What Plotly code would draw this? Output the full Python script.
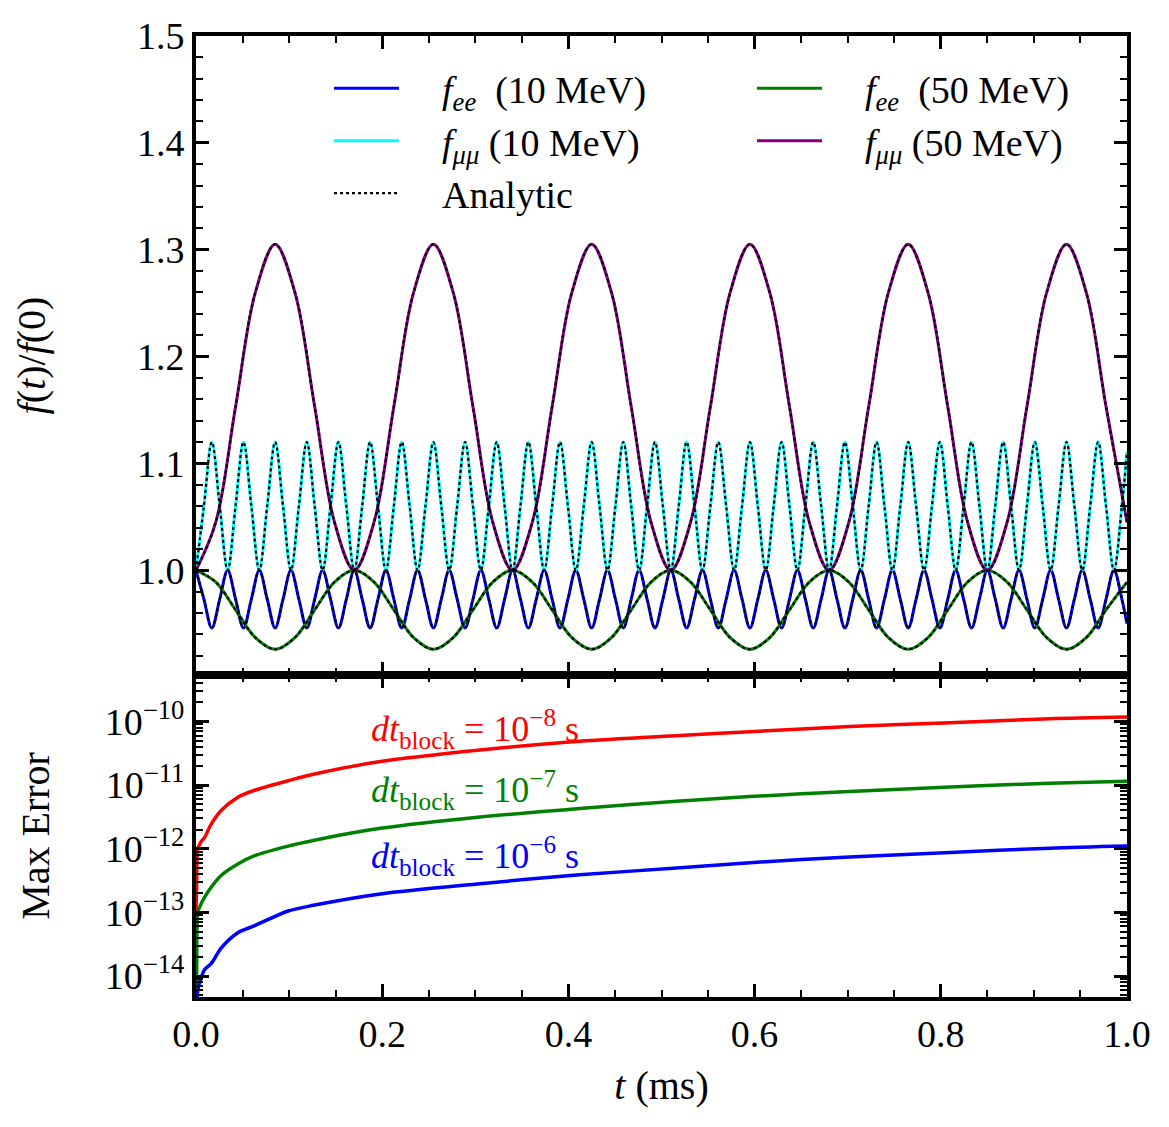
import plotly.graph_objects as go
from plotly.subplots import make_subplots

FONT = "Liberation Serif"

# ---------------- top panel data ----------------
t_fast = [
    0.0000, 0.0085, 0.0170, 0.0255, 0.0340, 0.0425, 0.0510, 0.0595, 0.0680, 0.0765,
    0.0850, 0.0935, 0.1020, 0.1105, 0.1190, 0.1275, 0.1360, 0.1445, 0.1530, 0.1615,
    0.1700, 0.1785, 0.1870, 0.1955, 0.2040, 0.2125, 0.2210, 0.2295, 0.2380, 0.2465,
    0.2550, 0.2635, 0.2720, 0.2805, 0.2890, 0.2975, 0.3060, 0.3145, 0.3230, 0.3315,
    0.3400, 0.3485, 0.3570, 0.3655, 0.3740, 0.3825, 0.3910, 0.3995, 0.4080, 0.4165,
    0.4250, 0.4335, 0.4420, 0.4505, 0.4590, 0.4675, 0.4760, 0.4845, 0.4930, 0.5015,
    0.5100, 0.5185, 0.5270, 0.5355, 0.5440, 0.5525, 0.5610, 0.5695, 0.5780, 0.5865,
    0.5950, 0.6035, 0.6120, 0.6205, 0.6290, 0.6375, 0.6460, 0.6545, 0.6630, 0.6715,
    0.6800, 0.6885, 0.6970, 0.7055, 0.7140, 0.7225, 0.7310, 0.7395, 0.7480, 0.7565,
    0.7650, 0.7735, 0.7820, 0.7905, 0.7990, 0.8075, 0.8160, 0.8245, 0.8330, 0.8415,
    0.8500, 0.8585, 0.8670, 0.8755, 0.8840, 0.8925, 0.9010, 0.9095, 0.9180, 0.9265,
    0.9350, 0.9435, 0.9520, 0.9605, 0.9690, 0.9775, 0.9860, 0.9945, 1.0000,
]

f_mm_10 = [
    1.00, 1.06, 1.12, 1.06, 1.00, 1.06, 1.12, 1.06, 1.00, 1.06,
    1.12, 1.06, 1.00, 1.06, 1.12, 1.06, 1.00, 1.06, 1.12, 1.06,
    1.00, 1.06, 1.12, 1.06, 1.00, 1.06, 1.12, 1.06, 1.00, 1.06,
    1.12, 1.06, 1.00, 1.06, 1.12, 1.06, 1.00, 1.06, 1.12, 1.06,
    1.00, 1.06, 1.12, 1.06, 1.00, 1.06, 1.12, 1.06, 1.00, 1.06,
    1.12, 1.06, 1.00, 1.06, 1.12, 1.06, 1.00, 1.06, 1.12, 1.06,
    1.00, 1.06, 1.12, 1.06, 1.00, 1.06, 1.12, 1.06, 1.00, 1.06,
    1.12, 1.06, 1.00, 1.06, 1.12, 1.06, 1.00, 1.06, 1.12, 1.06,
    1.00, 1.06, 1.12, 1.06, 1.00, 1.06, 1.12, 1.06, 1.00, 1.06,
    1.12, 1.06, 1.00, 1.06, 1.12, 1.06, 1.00, 1.06, 1.12, 1.06,
    1.00, 1.06, 1.12, 1.06, 1.00, 1.06, 1.12, 1.06, 1.00, 1.06,
    1.12, 1.06, 1.00, 1.06, 1.12, 1.06, 1.00, 1.06, 1.111,
]

f_ee_10 = [
    1.000, 0.973, 0.946, 0.973, 1.000, 0.973, 0.946, 0.973, 1.000, 0.973,
    0.946, 0.973, 1.000, 0.973, 0.946, 0.973, 1.000, 0.973, 0.946, 0.973,
    1.000, 0.973, 0.946, 0.973, 1.000, 0.973, 0.946, 0.973, 1.000, 0.973,
    0.946, 0.973, 1.000, 0.973, 0.946, 0.973, 1.000, 0.973, 0.946, 0.973,
    1.000, 0.973, 0.946, 0.973, 1.000, 0.973, 0.946, 0.973, 1.000, 0.973,
    0.946, 0.973, 1.000, 0.973, 0.946, 0.973, 1.000, 0.973, 0.946, 0.973,
    1.000, 0.973, 0.946, 0.973, 1.000, 0.973, 0.946, 0.973, 1.000, 0.973,
    0.946, 0.973, 1.000, 0.973, 0.946, 0.973, 1.000, 0.973, 0.946, 0.973,
    1.000, 0.973, 0.946, 0.973, 1.000, 0.973, 0.946, 0.973, 1.000, 0.973,
    0.946, 0.973, 1.000, 0.973, 0.946, 0.973, 1.000, 0.973, 0.946, 0.973,
    1.000, 0.973, 0.946, 0.973, 1.000, 0.973, 0.946, 0.973, 1.000, 0.973,
    0.946, 0.973, 1.000, 0.973, 0.946, 0.973, 1.000, 0.973, 0.950,
]

t_slow = [
    0.0, 0.02125, 0.0425, 0.06375, 0.085, 0.10625, 0.1275, 0.14875,
    0.17, 0.19125, 0.2125, 0.23375, 0.255, 0.27625, 0.2975, 0.31875,
    0.34, 0.36125, 0.3825, 0.40375, 0.425, 0.44625, 0.4675, 0.48875,
    0.51, 0.53125, 0.5525, 0.57375, 0.595, 0.61625, 0.6375, 0.65875,
    0.68, 0.70125, 0.7225, 0.74375, 0.765, 0.78625, 0.8075, 0.82875,
    0.85, 0.87125, 0.8925, 0.91375, 0.935, 0.95625, 0.9775, 1.0,
]

f_mm_50 = [
    1.000, 1.045, 1.153, 1.260, 1.305, 1.260, 1.153, 1.045,
    1.000, 1.045, 1.153, 1.260, 1.305, 1.260, 1.153, 1.045,
    1.000, 1.045, 1.153, 1.260, 1.305, 1.260, 1.153, 1.045,
    1.000, 1.045, 1.153, 1.260, 1.305, 1.260, 1.153, 1.045,
    1.000, 1.045, 1.153, 1.260, 1.305, 1.260, 1.153, 1.045,
    1.000, 1.045, 1.153, 1.260, 1.305, 1.260, 1.153, 1.045,
]

f_ee_50 = [
    1.000, 0.989, 0.963, 0.937, 0.926, 0.937, 0.963, 0.989,
    1.000, 0.989, 0.963, 0.937, 0.926, 0.937, 0.963, 0.989,
    1.000, 0.989, 0.963, 0.937, 0.926, 0.937, 0.963, 0.989,
    1.000, 0.989, 0.963, 0.937, 0.926, 0.937, 0.963, 0.989,
    1.000, 0.989, 0.963, 0.937, 0.926, 0.937, 0.963, 0.989,
    1.000, 0.989, 0.963, 0.937, 0.926, 0.937, 0.963, 0.989,
]

# ---------------- bottom panel data ----------------
t_err = [0.0, 0.0008, 0.002, 0.005, 0.0093, 0.0165, 0.027, 0.045, 0.063, 0.099, 0.126,
         0.198, 0.305, 0.412, 0.52, 0.595, 0.702, 0.81, 0.917, 1.0]
err_dt_1e8 = [1.0e-13, 3.2e-13, 1.0e-12, 1.26e-12, 1.51e-12, 2.45e-12, 3.98e-12, 6.46e-12, 8.3e-12, 1.17e-11,
              1.48e-11, 2.34e-11, 3.55e-11, 4.90e-11, 6.03e-11, 6.92e-11, 8.32e-11, 9.55e-11, 1.10e-10, 1.17e-10]
err_dt_1e7 = [3.0e-15, 1.5e-14, 1.0e-13, 1.32e-13, 1.74e-13, 2.51e-13, 3.80e-13, 5.75e-13, 7.76e-13, 1.10e-12,
              1.35e-12, 2.09e-12, 3.16e-12, 4.27e-12, 5.62e-12, 6.61e-12, 7.94e-12, 9.33e-12, 1.07e-11, 1.15e-11]
err_dt_1e6 = [2.0e-15, 3.5e-15, 6.03e-15, 8.9e-15, 1.26e-14, 1.58e-14, 2.75e-14, 4.79e-14, 6.17e-14, 1.05e-13,
              1.29e-13, 1.95e-13, 2.82e-13, 3.89e-13, 5.01e-13, 6.03e-13, 7.41e-13, 8.71e-13, 1.02e-12, 1.10e-12]

err_labels = ["10<sup>−8</sup>", "10<sup>−7</sup>", "10<sup>−6</sup>"]
err_label_y = [-10.12, -11.08, -12.12]
log_tickvals = [1e-14, 1e-13, 1e-12, 1e-11, 1e-10]
log_ticktext = ["10<sup>−14</sup>", "10<sup>−13</sup>", "10<sup>−12</sup>", "10<sup>−11</sup>", "10<sup>−10</sup>"]

fig = make_subplots(rows=2, cols=1, shared_xaxes=True, vertical_spacing=0,
                    row_heights=[639, 322])

NB = "\u00a0"
GAP = "\u2003"
curves = [
    (t_fast, f_ee_10, "#0000ff", f"{GAP}<i>f</i><sub><i>ee</i></sub>{NB}{NB}(10{NB}MeV)", 1, "legend"),
    (t_fast, f_mm_10, "#00ffff", f"{GAP}<i>f</i><sub><i>μμ</i></sub>{NB}(10{NB}MeV)", 2, "legend"),
    (t_slow, f_ee_50, "#008000", f"{GAP}<i>f</i><sub><i>ee</i></sub>{NB}{NB}(50{NB}MeV)", 1, "legend2"),
    (t_slow, f_mm_50, "#800080", f"{GAP}<i>f</i><sub><i>μμ</i></sub>{NB}(50{NB}MeV)", 2, "legend2"),
]
for tx, vy, col, name, rank, lg in curves:
    fig.add_trace(go.Scatter(x=tx, y=vy, mode="lines", name=name, legendrank=rank, legend=lg,
                             line=dict(color=col, width=3, shape="spline")), row=1, col=1)
for i, (tx, vy, col, name, rank, lg) in enumerate(curves):
    fig.add_trace(go.Scatter(x=tx, y=vy, mode="lines", name=f"{GAP}Analytic", legendrank=3, legend="legend",
                             showlegend=(i == 0),
                             line=dict(color="black", width=2.2, dash="dot", shape="spline")),
                  row=1, col=1)

for vals, col in [(err_dt_1e8, "#ff0000"), (err_dt_1e7, "#008000"), (err_dt_1e6, "#0000ff")]:
    fig.add_trace(go.Scatter(x=t_err, y=vals, mode="lines", showlegend=False,
                             line=dict(color=col, width=3.5, shape="spline", smoothing=0.8)), row=2, col=1)

for lab, ly, col in zip(err_labels, err_label_y, ["#ff0000", "#008000", "#0000ff"]):
    fig.add_annotation(x=0.186, y=ly, xref="x2", yref="y2", xanchor="left", yanchor="middle",
                       text=f"<i>dt</i><sub>block</sub> = {lab} s", showarrow=False,
                       font=dict(family=FONT, size=36, color=col))

tickfont = dict(family=FONT, size=38, color="black")
common = dict(showline=True, linewidth=4, linecolor="black", mirror="allticks",
              ticks="inside", ticklen=13, tickwidth=2.5, tickcolor="black",
              showgrid=False, zeroline=False, tickfont=tickfont)
minor = dict(ticks="inside", ticklen=7, tickwidth=2, tickcolor="black", showgrid=False)

fig.update_xaxes(**common, range=[0, 1], dtick=0.2, tick0=0, tickformat=".1f",
                 minor=dict(**minor, dtick=0.05))
fig.update_xaxes(showticklabels=False, row=1, col=1)
fig.update_xaxes(title=dict(text="<i>t</i> (ms)", font=dict(family=FONT, size=40, color="black"), standoff=18),
                 row=2, col=1)

fig.update_yaxes(**common, range=[0.902, 1.5], dtick=0.1, tick0=1.0, tickformat=".1f",
                 minor=dict(**minor, dtick=0.02),
                 title=dict(text="<i>f</i>(<i>t</i>)/<i>f</i>(0)", font=dict(family=FONT, size=40, color="black"),
                            standoff=80),
                 row=1, col=1)
fig.update_yaxes(**common, type="log", range=[-14.33, -9.27], tickvals=log_tickvals, ticktext=log_ticktext,
                 minor=dict(**minor, dtick="D1"),
                 title=dict(text="Max Error", font=dict(family=FONT, size=40, color="black"), standoff=44),
                 row=2, col=1)

legend_common = dict(orientation="v", xanchor="left", yanchor="top", traceorder="normal",
                     font=dict(family=FONT, size=38, color="black"), bgcolor="rgba(0,0,0,0)",
                     borderwidth=0, itemwidth=65)
fig.update_layout(
    width=1169, height=1127,
    margin=dict(l=196, r=42, t=36, b=130),
    paper_bgcolor="white", plot_bgcolor="white",
    font=dict(family=FONT, color="black"),
    legend=dict(**legend_common, x=0.1429, y=0.978),
    legend2=dict(**legend_common, x=0.5972, y=0.978),
)

fig.write_html("out.html")
